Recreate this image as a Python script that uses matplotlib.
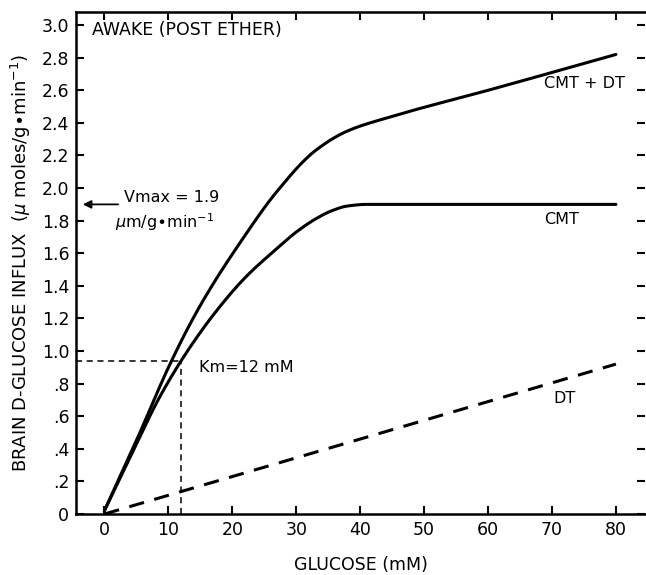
import numpy as np
import matplotlib
matplotlib.use("Agg")
import matplotlib.pyplot as plt

# values
cmt_x = [0, 5.5, 8.4, 12, 17, 22, 27, 30, 33, 35.5, 38, 41, 60, 80]
cmt = [0.02, 0.47, 0.70, 0.94, 1.22, 1.45, 1.63, 1.73, 1.81, 1.86, 1.89, 1.90, 1.90, 1.90]
sum_x = [0, 5, 10.5, 15, 22, 27, 33, 38, 45, 60, 80]
cmt_dt = [0.02, 0.45, 0.94, 1.28, 1.71, 1.98, 2.23, 2.35, 2.44, 2.60, 2.82]
dt_x = [0, 80]
dt = [0.0, 0.92]

km = 12
km_v = 0.94
vmax = 1.9

xticks = [0, 10, 20, 30, 40, 50, 60, 70, 80]
yticks = [0, 0.2, 0.4, 0.6, 0.8, 1.0, 1.2, 1.4, 1.6, 1.8, 2.0, 2.2, 2.4, 2.6, 2.8, 3.0]
ylabels = ["0", ".2", ".4", ".6", ".8", "1.0", "1.2", "1.4", "1.6", "1.8", "2.0",
           "2.2", "2.4", "2.6", "2.8", "3.0"]


def smooth(x, y, n=30):
    # monotone cubic (Fritsch-Carlson) through the read points, for drawing only
    x = np.asarray(x, float)
    y = np.asarray(y, float)
    h = np.diff(x)
    d = np.diff(y) / h
    m = np.zeros_like(y)
    m[0], m[-1] = d[0], d[-1]
    for i in range(1, len(x) - 1):
        if d[i - 1] * d[i] <= 0:
            m[i] = 0.0
        else:
            w1 = 2 * h[i] + h[i - 1]
            w2 = h[i] + 2 * h[i - 1]
            m[i] = (w1 + w2) / (w1 / d[i - 1] + w2 / d[i])
    xs, ys = [], []
    t = np.linspace(0, 1, n, endpoint=False)
    for i in range(len(x) - 1):
        h00 = 2 * t ** 3 - 3 * t ** 2 + 1
        h10 = t ** 3 - 2 * t ** 2 + t
        h01 = -2 * t ** 3 + 3 * t ** 2
        h11 = t ** 3 - t ** 2
        xs.extend(x[i] + t * h[i])
        ys.extend(h00 * y[i] + h10 * h[i] * m[i] + h01 * y[i + 1] + h11 * h[i] * m[i + 1])
    xs.append(x[-1])
    ys.append(y[-1])
    return xs, ys


def main():
    plt.rcParams['font.family'] = ['DejaVu Sans']
    fig = plt.figure(figsize=(6.46, 5.75), dpi=100)
    ax = fig.add_axes([0.118, 0.106, 0.880, 0.873])

    xmin, xmax = -4.4, 84.5
    ax.set_xlim(xmin, xmax)
    ax.set_ylim(0, 3.08)

    ax.plot(*smooth(sum_x, cmt_dt), color='black', lw=2.2, solid_capstyle='round')
    ax.plot(*smooth(cmt_x, cmt), color='black', lw=2.2, solid_capstyle='round')
    ax.plot(dt_x, dt, color='black', lw=2.2, dashes=(5, 3.5))

    # Km guides
    ax.plot([xmin, km], [km_v, km_v], color='black', lw=1.1, dashes=(4, 3))
    ax.plot([km, km], [0, km_v], color='black', lw=1.1, dashes=(4, 3))

    # Vmax arrow
    ax.annotate('', xy=(xmin + 0.6, vmax), xytext=(2.6, vmax),
                arrowprops=dict(arrowstyle='-|>', color='black', lw=1.3,
                                mutation_scale=12))
    ax.text(3.0, 1.94, 'Vmax = 1.9', fontsize=11.5, va='center', ha='left')
    ax.text(1.6, 1.79, r'$\mu$m/g$\bullet$min$^{-1}$', fontsize=11.5, va='center', ha='left')

    ax.text(-2.0, 2.97, 'AWAKE (POST ETHER)', fontsize=12.5, va='center', ha='left')
    ax.text(68.7, 2.64, 'CMT + DT', fontsize=11.5, va='center', ha='left')
    ax.text(68.7, 1.81, 'CMT', fontsize=11.5, va='center', ha='left')
    ax.text(70.2, 0.71, 'DT', fontsize=11.5, va='center', ha='left')
    ax.text(14.8, 0.90, 'Km=12 mM', fontsize=11.5, va='center', ha='left')

    ax.set_xticks(xticks)
    ax.set_yticks(yticks)
    ax.set_yticklabels(ylabels)
    ax.tick_params(direction='in', length=6, width=1.5, labelsize=12.5,
                   top=True, right=True, pad=5)

    ax.set_xlabel('GLUCOSE (mM)', fontsize=12.5, labelpad=12)
    ax.set_ylabel(r'BRAIN D-GLUCOSE INFLUX  ($\mu$ moles/g$\bullet$min$^{-1}$)',
                  fontsize=13, labelpad=6)

    for side in ['left', 'bottom', 'top']:
        ax.spines[side].set_linewidth(1.8)
    ax.spines['right'].set_visible(False)

    fig.savefig('out.png', dpi=100)


if __name__ == "__main__":
    main()
